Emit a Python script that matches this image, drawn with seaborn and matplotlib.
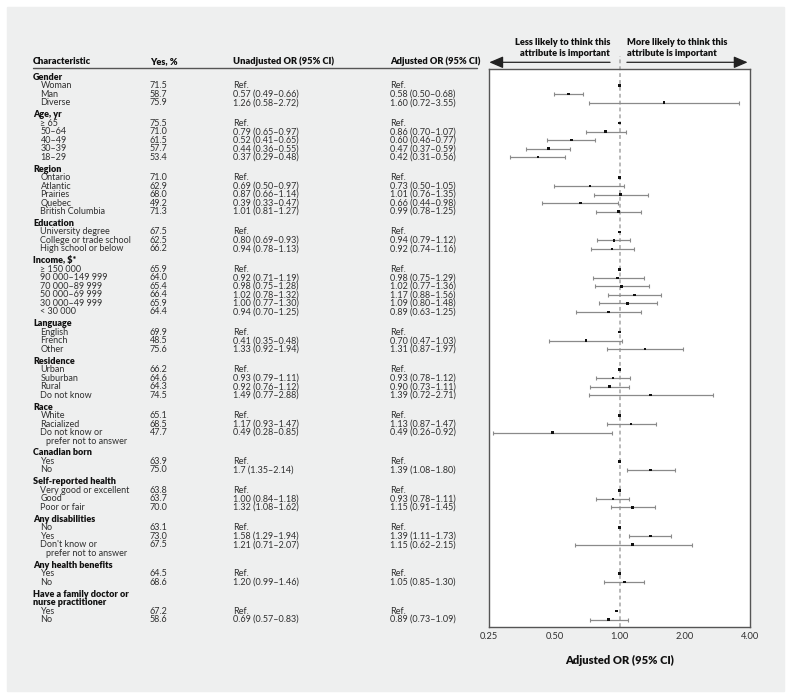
import numpy as np
import pandas as pd
import matplotlib
matplotlib.use('Agg')
import matplotlib.pyplot as plt
from matplotlib.patches import Rectangle
import seaborn as sns

# ── Data ──────────────────────────────────────
groups = ['Gender', 'Age, yr', 'Region', 'Education', 'Income, $*',
          'Language', 'Residence', 'Race', 'Canadian born',
          'Self-reported health', 'Any disabilities',
          'Any health benefits',
          'Have a family doctor or\nnurse practitioner']
group_sizes = [3, 5, 5, 3, 6, 3, 4, 3, 2, 3, 3, 2, 2]

items = ['Woman', 'Man', 'Diverse',
         '≥ 65', '50–64', '40–49', '30–39', '18–29',
         'Ontario', 'Atlantic', 'Prairies', 'Quebec', 'British Columbia',
         'University degree', 'College or trade school', 'High school or below',
         '≥ 150 000', '90 000–149 999', '70 000–89 999', '50 000–69 999',
         '30 000–49 999', '< 30 000',
         'English', 'French', 'Other',
         'Urban', 'Suburban', 'Rural', 'Do not know',
         'White', 'Racialized', 'Do not know or\nprefer not to answer',
         'Yes', 'No',
         'Very good or excellent', 'Good', 'Poor or fair',
         'No', 'Yes', "Don't know or\nprefer not to answer",
         'Yes', 'No',
         'Yes', 'No']

yes_pct = [71.5, 58.7, 75.9,
           75.5, 71.0, 61.5, 57.7, 53.4,
           71.0, 62.9, 68.0, 49.2, 71.3,
           67.5, 62.5, 66.2,
           65.9, 64.0, 65.4, 66.4, 65.9, 64.4,
           69.9, 48.5, 75.6,
           66.2, 64.6, 64.3, 74.5,
           65.1, 68.5, 47.7,
           63.9, 75.0,
           63.8, 63.7, 70.0,
           63.1, 73.0, 67.5,
           64.5, 68.6,
           67.2, 58.6]

unadj_text = ['Ref.', '0.57 (0.49–0.66)', '1.26 (0.58–2.72)',
              'Ref.', '0.79 (0.65–0.97)', '0.52 (0.41–0.65)',
              '0.44 (0.36–0.55)', '0.37 (0.29–0.48)',
              'Ref.', '0.69 (0.50–0.97)', '0.87 (0.66–1.14)',
              '0.39 (0.33–0.47)', '1.01 (0.81–1.27)',
              'Ref.', '0.80 (0.69–0.93)', '0.94 (0.78–1.13)',
              'Ref.', '0.92 (0.71–1.19)', '0.98 (0.75–1.28)',
              '1.02 (0.78–1.32)', '1.00 (0.77–1.30)', '0.94 (0.70–1.25)',
              'Ref.', '0.41 (0.35–0.48)', '1.33 (0.92–1.94)',
              'Ref.', '0.93 (0.79–1.11)', '0.92 (0.76–1.12)', '1.49 (0.77–2.88)',
              'Ref.', '1.17 (0.93–1.47)', '0.49 (0.28–0.85)',
              'Ref.', '1.7 (1.35–2.14)',
              'Ref.', '1.00 (0.84–1.18)', '1.32 (1.08–1.62)',
              'Ref.', '1.58 (1.29–1.94)', '1.21 (0.71–2.07)',
              'Ref.', '1.20 (0.99–1.46)',
              'Ref.', '0.69 (0.57–0.83)']

# adjusted OR (Ref rows are drawn at ~1.0, no CI)
is_ref = [True, False, False,
          True, False, False, False, False,
          True, False, False, False, False,
          True, False, False,
          True, False, False, False, False, False,
          True, False, False,
          True, False, False, False,
          True, False, False,
          True, False,
          True, False, False,
          True, False, False,
          True, False,
          True, False]
adj_or = [1.00, 0.58, 1.60,
          1.00, 0.86, 0.60, 0.47, 0.42,
          1.00, 0.73, 1.01, 0.66, 0.99,
          1.00, 0.94, 0.92,
          1.00, 0.98, 1.02, 1.17, 1.09, 0.89,
          1.00, 0.70, 1.31,
          1.00, 0.93, 0.90, 1.39,
          1.00, 1.13, 0.49,
          1.00, 1.39,
          1.00, 0.93, 1.15,
          1.00, 1.39, 1.15,
          1.00, 1.05,
          0.97, 0.89]
adj_lo = [np.nan, 0.50, 0.72,
          np.nan, 0.70, 0.46, 0.37, 0.31,
          np.nan, 0.50, 0.76, 0.44, 0.78,
          np.nan, 0.79, 0.74,
          np.nan, 0.75, 0.77, 0.88, 0.80, 0.63,
          np.nan, 0.47, 0.87,
          np.nan, 0.78, 0.73, 0.72,
          np.nan, 0.87, 0.26,
          np.nan, 1.08,
          np.nan, 0.78, 0.91,
          np.nan, 1.11, 0.62,
          np.nan, 0.85,
          np.nan, 0.73]
adj_hi = [np.nan, 0.68, 3.55,
          np.nan, 1.07, 0.77, 0.59, 0.56,
          np.nan, 1.05, 1.35, 0.98, 1.25,
          np.nan, 1.12, 1.16,
          np.nan, 1.29, 1.36, 1.56, 1.48, 1.25,
          np.nan, 1.03, 1.97,
          np.nan, 1.12, 1.11, 2.71,
          np.nan, 1.47, 0.92,
          np.nan, 1.80,
          np.nan, 1.11, 1.45,
          np.nan, 1.73, 2.15,
          np.nan, 1.30,
          np.nan, 1.09]

# ── Row layout (row units, with a small gap between groups) ──
GAP = 0.4
header_y, item_y = [], []
r = 0.0
k = 0
for g, n in zip(groups, group_sizes):
    header_y.append(r)
    r += len(g.split('\n'))
    for _ in range(n):
        item_y.append(r)
        r += len(items[k].split('\n'))
        k += 1
    r += GAP

df = pd.DataFrame({'item': items, 'y': item_y, 'yes': yes_pct,
                   'unadj': unadj_text, 'ref': is_ref,
                   'or': adj_or, 'lo': adj_lo, 'hi': adj_hi})

# ── Style ─────────────────────────────────────
sns.set_theme(style='white')
plt.rcParams['font.family'] = ['Lato', 'DejaVu Sans']

W, H = 791, 699
fig = plt.figure(figsize=(W / 100, H / 100), dpi=100)
fig.patch.set_facecolor('white')
fig.add_artist(Rectangle((7 / W, (H - 691) / H), 777 / W, 684 / H,
                         transform=fig.transFigure, color='#eeefef',
                         zorder=-10))

ROW_PX = 8.5
Y0_PX = 77.2          # pixel of row 0
top_px, bot_px = 69, 626.7
ylim = ((bot_px - Y0_PX) / ROW_PX, (top_px - Y0_PX) / ROW_PX)
ax_bottom = (H - bot_px) / H
ax_height = (bot_px - top_px) / H

def py(p):
    return (p - Y0_PX) / ROW_PX

# ── Table (left) ──────────────────────────────
tab = fig.add_axes([0, ax_bottom, 489.3 / W, ax_height])
tab.set_xlim(0, 489.3)
tab.set_ylim(*ylim)
tab.axis('off')

TXT = '#303030'
FS = 6.5
col_x = [33, 150, 233, 390]
for x, lab in zip(col_x, ['Characteristic', 'Yes, %',
                          'Unadjusted OR (95% CI)', 'Adjusted OR (95% CI)']):
    tab.text(x, py(61.5), lab, fontsize=6.7, fontweight='heavy',
             color='#111111', va='center', ha='left', clip_on=False)
tab.plot([33, 477], [py(68.3), py(68.3)], color='#555555', lw=1,
         clip_on=False)

for g, y in zip(groups, header_y):
    for j, line in enumerate(g.split('\n')):
        tab.text(33, y + j, line, fontsize=FS, fontweight='heavy',
                 color='#111111', va='center', ha='left')

for _, row in df.iterrows():
    for j, line in enumerate(row['item'].split('\n')):
        tab.text(40.5 if j == 0 else 46, row['y'] + j, line, fontsize=FS,
                 color=TXT, va='center', ha='left')
    tab.text(150, row['y'], f"{row['yes']:.1f}", fontsize=FS, color=TXT,
             va='center', ha='left')
    tab.text(233, row['y'], row['unadj'], fontsize=FS, color=TXT,
             va='center', ha='left')
    adj = 'Ref.' if row['ref'] else \
        f"{row['or']:.2f} ({row['lo']:.2f}–{row['hi']:.2f})"
    tab.text(390, row['y'], adj, fontsize=FS, color=TXT,
             va='center', ha='left')

# ── Forest plot (right) ───────────────────────
ax = fig.add_axes([489.3 / W, ax_bottom, (750 - 489.3) / W, ax_height])
ax.set_facecolor('white')
ax.set_xscale('log', base=2)
ax.set_xlim(0.25, 4.0)
ax.set_ylim(*ylim)

ci = df[~df['ref']]
ax.errorbar(ci['or'], ci['y'],
            xerr=[ci['or'] - ci['lo'], ci['hi'] - ci['or']],
            fmt='none', ecolor='#8a8a8a', elinewidth=0.9,
            capsize=1.6, capthick=0.8, zorder=2)
sns.scatterplot(data=df, x='or', y='y', ax=ax, marker='s', s=3.5,
                color='#111111', edgecolor='none', zorder=3, legend=False)

ax.axvline(1.0, ymin=0, ymax=1 + 13 / (bot_px - top_px),
           color='#a5a5a5', lw=1.1, dashes=(2.5, 2), zorder=1,
           clip_on=False)

ax.set_xticks([0.25, 0.5, 1, 2, 4])
ax.set_xticklabels(['0.25', '0.50', '1.00', '2.00', '4.00'])
ax.minorticks_off()
ax.tick_params(axis='x', length=0, pad=4, labelsize=6.7, labelcolor=TXT)
ax.set_yticks([])
ax.set_xlabel('Adjusted OR (95% CI)', fontsize=8, fontweight='heavy',
              color='#111111', labelpad=10)
ax.set_ylabel('')
for s in ax.spines.values():
    s.set_color('#555555')
    s.set_linewidth(1)
    s.set_visible(True)

# direction arrows and captions above the plot
arr_y = 1 + (top_px - 62.3) / (bot_px - top_px)
txt_y = 1 + (top_px - 48.3) / (bot_px - top_px)
arrow = dict(arrowstyle='-|>,head_length=0.7,head_width=0.3',
             color='#222222', lw=0.9, shrinkA=0, shrinkB=0)
ax.annotate('', xy=(0.25, arr_y), xytext=(0.903, arr_y),
            xycoords=('data', 'axes fraction'),
            textcoords=('data', 'axes fraction'), arrowprops=arrow,
            annotation_clip=False)
ax.annotate('', xy=(3.9, arr_y), xytext=(1.08, arr_y),
            xycoords=('data', 'axes fraction'),
            textcoords=('data', 'axes fraction'), arrowprops=arrow,
            annotation_clip=False)
ax.text(0.903, txt_y, 'Less likely to think this\nattribute is important',
        transform=ax.get_xaxis_transform(), ha='right', va='center',
        fontsize=6.7, fontweight='heavy', color='#111111', linespacing=1.3)
ax.text(1.08, txt_y, 'More likely to think this\nattribute is important',
        transform=ax.get_xaxis_transform(), ha='left', va='center',
        fontsize=6.7, fontweight='heavy', color='#111111', linespacing=1.3)

fig.savefig('out.png', dpi=100)
